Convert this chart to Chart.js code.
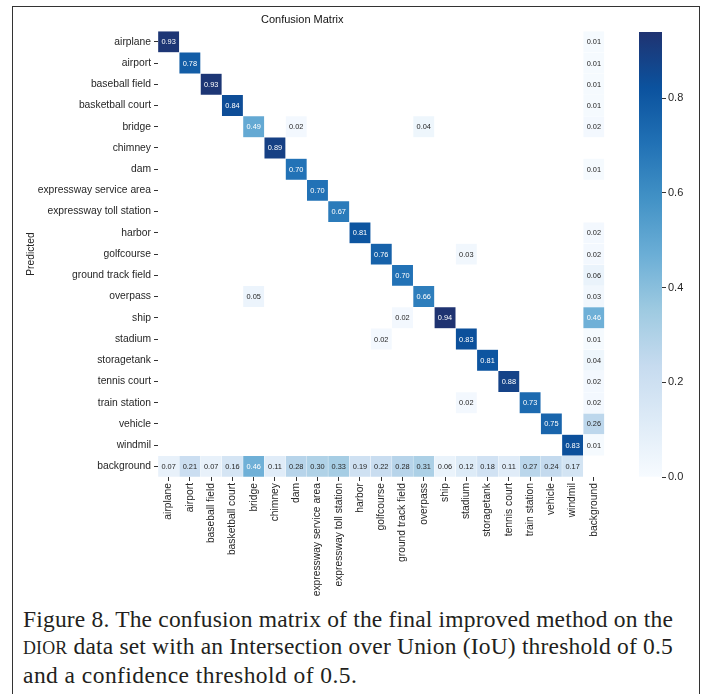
<!DOCTYPE html>
<html>
<head>
<meta charset="utf-8">
<title>Confusion Matrix</title>
<script src="https://cdn.jsdelivr.net/npm/chart.js@4.4.1/dist/chart.umd.min.js"></script>
<style>
  html, body { margin: 0; padding: 0; background: #fff; }
  #page { position: relative; width: 706px; height: 694px; overflow: hidden; }
  #frame {
    position: absolute; left: 12px; top: 6px; width: 688px; height: 720px;
    border: 1.5px solid #333; border-bottom: none; box-sizing: border-box;
  }
  #matrix { position: absolute; left: 0; top: 0; }
  #colorbar { position: absolute; left: 630px; top: 0; }
  #caption {
    position: absolute; left: 23px; top: 606px; width: 650px;
    font-family: "Liberation Serif", "DejaVu Serif", serif;
    font-size: 23.5px; letter-spacing: 0.45px; line-height: 27px; color: #231f20;
  }
  #caption div { white-space: nowrap; }
  #caption .just { text-align: justify; text-align-last: justify; letter-spacing: 0.18px; }
  .sc { font-size: 0.76em; }
</style>
</head>
<body>
<div id="page">
  <div id="frame"></div>
  <canvas id="matrix" width="620" height="600"></canvas>
  <canvas id="colorbar" width="76" height="600"></canvas>
  <div id="caption">
    <div class="just">Figure 8. The confusion matrix of the final improved method on the</div>
    <div class="just"><span class="sc">DIOR</span> data set with an Intersection over Union (IoU) threshold of 0.5</div>
    <div>and a confidence threshold of 0.5.</div>
  </div>
</div>
<script>
// class names (rows = predicted, columns = true)
const classes = ['airplane', 'airport', 'baseball field', 'basketball court', 'bridge', 'chimney', 'dam',
  'expressway service area', 'expressway toll station', 'harbor', 'golfcourse', 'ground track field',
  'overpass', 'ship', 'stadium', 'storagetank', 'tennis court', 'train station', 'vehicle', 'windmil',
  'background'];

// correct detections for each object class
const diagonal = [0.93, 0.78, 0.93, 0.84, 0.49, 0.89, 0.70, 0.70, 0.67, 0.81, 0.76, 0.70,
  0.66, 0.94, 0.83, 0.81, 0.88, 0.73, 0.75, 0.83];

// objects missed (predicted as background), per true class
const backgroundRow = [0.07, 0.21, 0.07, 0.16, 0.46, 0.11, 0.28, 0.30, 0.33, 0.19, 0.22, 0.28,
  0.31, 0.06, 0.12, 0.18, 0.11, 0.27, 0.24, 0.17];

// background predicted as each class (0 = empty cell)
const backgroundCol = [0.01, 0.01, 0.01, 0.01, 0.02, 0, 0.01, 0, 0, 0.02, 0.02, 0.06,
  0.03, 0.46, 0.01, 0.04, 0.02, 0.02, 0.26, 0.01];

// remaining confusions: [predicted, true, value]
const otherCells = [
  ['bridge', 'dam', 0.02],
  ['bridge', 'overpass', 0.04],
  ['golfcourse', 'stadium', 0.03],
  ['overpass', 'bridge', 0.05],
  ['ship', 'ground track field', 0.02],
  ['stadium', 'golfcourse', 0.02],
  ['train station', 'stadium', 0.02]
];

const vmax = 0.94;

// build the full matrix
const n = classes.length;
const matrix = classes.map(() => Array(n).fill(0));
diagonal.forEach((v, i) => { matrix[i][i] = v; });
backgroundRow.forEach((v, j) => { matrix[n - 1][j] = v; });
backgroundCol.forEach((v, i) => { matrix[i][n - 1] = v; });
otherCells.forEach(([r, c, v]) => { matrix[classes.indexOf(r)][classes.indexOf(c)] = v; });

// "Blues" style colour ramp
const ramp = [
  [0, '#f7fbff'], [0.125, '#deebf7'], [0.25, '#c6dbef'], [0.375, '#9ecae1'], [0.5, '#6baed6'],
  [0.625, '#4292c6'], [0.75, '#2171b5'], [0.875, '#0b529e'], [1, '#1f3371']
];
function hexToRgb(h) {
  return [parseInt(h.slice(1, 3), 16), parseInt(h.slice(3, 5), 16), parseInt(h.slice(5, 7), 16)];
}
function cmap(t) {
  t = Math.max(0, Math.min(1, t));
  for (let k = 1; k < ramp.length; k++) {
    if (t <= ramp[k][0]) {
      const [t0, c0] = ramp[k - 1], [t1, c1] = ramp[k];
      const f = (t - t0) / (t1 - t0);
      const a = hexToRgb(c0), b = hexToRgb(c1);
      return 'rgb(' + a.map((x, i) => Math.round(x + (b[i] - x) * f)).join(',') + ')';
    }
  }
  return ramp[ramp.length - 1][1];
}

const sans = '"Liberation Sans", Arial, sans-serif';
const textColor = '#262626';

// one floating-bar dataset per predicted row
const datasets = classes.map((_, i) => ({
  data: classes.map((_, j) => matrix[i][j] > 0 ? [i, i + 1] : null),
  backgroundColor: classes.map((_, j) => cmap(matrix[i][j] / vmax)),
  borderColor: 'rgba(255,255,255,0.15)',
  borderWidth: 0.5,
  borderSkipped: false,
  grouped: false,
  barPercentage: 1,
  categoryPercentage: 1
}));

// writes the value inside every non-empty cell
const cellText = {
  id: 'cellText',
  afterDatasetsDraw(chart) {
    const c = chart.ctx;
    c.save();
    c.font = '7.4px ' + sans;
    c.textAlign = 'center';
    c.textBaseline = 'middle';
    chart.data.datasets.forEach((ds, i) => {
      chart.getDatasetMeta(i).data.forEach((bar, j) => {
        const v = matrix[i][j];
        if (!v) return;
        c.fillStyle = v / vmax > 0.45 ? '#ffffff' : textColor;
        c.fillText(v.toFixed(2), bar.x, (bar.y + bar.base) / 2 + 0.5);
      });
    });
    c.restore();
  }
};

new Chart(document.getElementById('matrix'), {
  type: 'bar',
  data: { labels: classes, datasets: datasets },
  plugins: [cellText],
  options: {
    responsive: false,
    animation: false,
    layout: { padding: { left: 0, right: 15.5, top: 0, bottom: 0 } },
    plugins: {
      legend: { display: false },
      tooltip: { enabled: false },
      title: {
        display: true,
        text: 'Confusion Matrix',
        color: '#111',
        font: { family: sans, size: 11, weight: 'normal' },
        padding: { top: 13.5, bottom: 4.5 }
      }
    },
    scales: {
      x: {
        type: 'category',
        offset: true,
        grid: { offset: false, drawOnChartArea: false, drawTicks: true, tickLength: 4, color: '#333' },
        border: { display: false },
        ticks: {
          autoSkip: false, minRotation: 90, maxRotation: 90, padding: 2,
          color: textColor, font: { family: sans, size: 10.3 }
        },
        afterFit: s => { s.height = 123; }
      },
      y: {
        type: 'linear',
        min: 0,
        max: n,
        reverse: true,
        afterBuildTicks: s => { s.ticks = classes.map((_, i) => ({ value: i + 0.5 })); },
        grid: { drawOnChartArea: false, drawTicks: true, tickLength: 4, color: '#333' },
        border: { display: false },
        ticks: {
          autoSkip: false, padding: 3,
          color: textColor, font: { family: sans, size: 10.3 },
          callback: v => classes[Math.floor(v)]
        },
        title: {
          display: true, text: 'Predicted', color: textColor,
          font: { family: sans, size: 10.3 }, padding: { top: 25, bottom: 0 }
        },
        afterFit: s => { s.width = 158; }
      }
    }
  }
});

// colour bar beside the matrix
new Chart(document.getElementById('colorbar'), {
  type: 'bar',
  data: {
    labels: [''],
    datasets: [{
      data: [[0, vmax]],
      borderWidth: 0,
      barPercentage: 1,
      categoryPercentage: 1,
      backgroundColor: context => {
        const { ctx, chartArea } = context.chart;
        if (!chartArea) return null;
        const g = ctx.createLinearGradient(0, chartArea.bottom, 0, chartArea.top);
        ramp.forEach(([t, col]) => g.addColorStop(t, col));
        return g;
      }
    }]
  },
  options: {
    responsive: false,
    animation: false,
    layout: { padding: { left: 9, right: 0, top: 32, bottom: 123 } },
    plugins: { legend: { display: false }, tooltip: { enabled: false } },
    scales: {
      x: { display: false },
      y: {
        position: 'right',
        min: 0,
        max: vmax,
        grid: { drawOnChartArea: false, drawTicks: true, tickLength: 4, color: '#333' },
        border: { display: false },
        ticks: {
          stepSize: 0.2, includeBounds: false, padding: 2,
          color: textColor, font: { family: sans, size: 11 },
          callback: v => v.toFixed(1)
        },
        afterFit: s => { s.width = 44; }
      }
    }
  }
});
</script>
</body>
</html>
